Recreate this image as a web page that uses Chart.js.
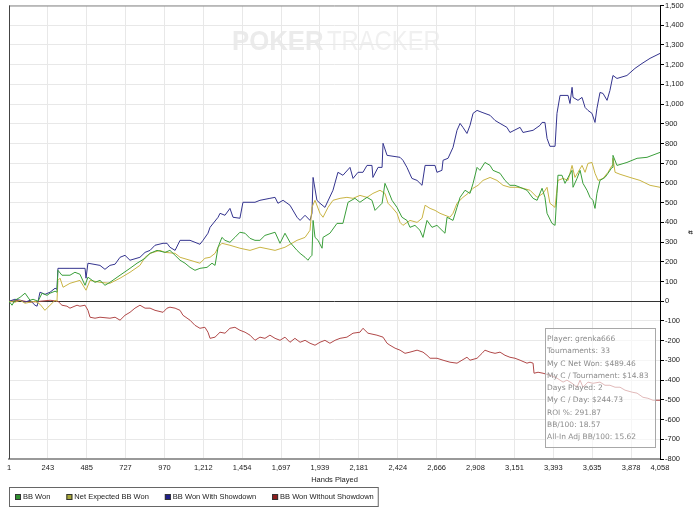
<!DOCTYPE html>
<html>
<head>
<meta charset="utf-8">
<script src="https://cdn.jsdelivr.net/npm/chart.js@4.4.1/dist/chart.umd.min.js"></script>
<style>
  body { margin: 0; background: #fff; }
  canvas { display: block; }
</style>
</head>
<body>
<canvas id="canvas1" width="700" height="513"></canvas>
<script>
// x axis tick labels (hands)
const xTicks = [1, 243, 485, 727, 970, 1212, 1454, 1697, 1939, 2181, 2424, 2666, 2908, 3151, 3393, 3635, 3878, 4058];

// BB Won
const bbWonHands = [1,20,38,70,101,132,151,182,207,238,257,288,300,306,331,381,412,443,475,493,
  537,568,599,630,693,755,799,849,880,923,973,1004,1036,1067,1098,1129,1160,1191,1235,1266,
  1285,1304,1328,1347,1378,1409,1440,1472,1503,1534,1565,1596,1659,1690,1721,1752,1796,1815,1846,1864,
  1877,1889,1896,1908,1927,1952,1958,2001,2045,2082,2114,2157,2188,2232,2263,2282,2326,2344,2363,2388,
  2419,2450,2481,2500,2531,2562,2581,2606,2637,2668,2699,2718,2731,2768,2793,2812,2843,2874,2893,2918,
  2936,2967,2999,3017,3061,3092,3123,3154,3186,3229,3267,3292,3323,3341,3354,3385,3404,3416,3422,3447,
  3466,3485,3510,3516,3541,3560,3578,3603,3622,3640,3653,3665,3684,3715,3734,3759,3765,3790,3852,3915,
  3977,4058];
const bbWonValues = [0,-20,5,20,41,5,10,0,41,30,41,51,46,157,132,132,147,137,81,122,
  96,106,81,96,132,167,193,218,243,258,248,258,233,208,193,172,157,167,172,193,
  182,274,324,309,299,324,350,345,319,309,309,334,350,294,345,299,258,243,223,208,
  223,233,410,324,309,269,324,345,395,395,502,522,502,527,512,461,497,598,563,512,
  476,426,410,375,385,360,324,410,375,385,360,345,426,410,476,527,563,547,598,679,
  664,704,689,664,649,613,588,588,578,563,522,512,573,527,446,395,385,547,639,639,
  598,628,664,578,623,664,598,563,527,512,471,547,613,628,649,679,740,689,704,725,
  730,755];

// Net Expected BB Won
const expectedHands = [1,38,70,101,132,163,194,225,244,257,288,300,306,319,338,381,443,481,506,568,
  630,693,755,817,849,880,942,973,1036,1067,1129,1191,1222,1254,1285,1304,1328,1378,1440,1503,
  1565,1659,1721,1796,1846,1877,1889,1908,1939,1958,1989,2020,2064,2107,2145,2188,2232,2269,2313,2344,
  2363,2388,2419,2438,2456,2500,2544,2575,2594,2625,2656,2687,2718,2749,2768,2793,2830,2862,2893,2924,
  2955,2999,3042,3080,3123,3167,3204,3248,3292,3329,3354,3372,3404,3422,3454,3485,3510,3528,3547,3572,
  3591,3609,3634,3653,3672,3703,3734,3759,3765,3778,3809,3871,3933,3996,4058];
const expectedValues = [0,-5,5,-10,-5,0,-15,-46,-30,-20,5,0,106,117,71,91,106,56,106,96,
  91,117,147,182,223,243,258,248,243,223,208,193,218,223,243,274,294,284,269,258,
  274,258,274,309,324,360,476,512,446,426,476,512,522,527,522,537,527,547,563,547,
  497,476,446,400,385,410,400,421,487,471,461,446,436,426,446,497,527,547,573,588,
  613,628,613,588,578,578,573,563,527,547,578,497,476,613,623,613,689,628,654,689,
  654,699,704,649,613,623,654,689,725,654,644,628,613,588,578];

// BB Won With Showdown
const showdownHands = [1,38,70,101,132,163,176,194,225,257,288,300,306,381,475,481,493,568,599,630,
  662,693,724,755,817,849,880,911,961,986,1004,1036,1067,1129,1191,1210,1241,1254,1304,1316,
  1347,1378,1397,1440,1459,1534,1565,1627,1659,1677,1709,1752,1796,1815,1846,1877,1889,1896,1920,1939,
  1970,2020,2051,2082,2126,2145,2176,2207,2232,2263,2269,2301,2326,2332,2357,2438,2456,2481,2512,2544,
  2575,2594,2656,2668,2699,2706,2737,2768,2793,2812,2830,2855,2874,2893,2918,2949,2999,3030,3061,3104,
  3123,3186,3204,3267,3310,3323,3341,3354,3372,3404,3416,3435,3485,3497,3510,3516,3547,3572,3591,3609,
  3634,3653,3665,3684,3703,3728,3746,3765,3790,3852,3902,3946,3996,4058];
const showdownValues = [0,10,5,-5,5,-20,-25,46,35,46,66,61,167,167,167,117,193,182,162,182,
  188,223,233,208,223,248,258,284,294,294,274,258,309,309,289,309,345,375,426,446,
  436,471,426,421,502,502,512,522,527,497,512,487,426,410,436,410,446,628,512,497,
  476,563,654,639,679,623,654,654,689,689,628,679,679,801,740,730,715,679,623,613,
  588,689,689,654,664,715,725,780,867,902,882,851,892,953,968,958,943,917,902,882,
  856,882,856,867,892,907,907,826,786,786,953,1044,1044,1003,1085,1034,1019,1034,983,968,
  953,907,978,1059,1054,1019,1069,1145,1130,1145,1181,1206,1232,1257];

// BB Won Without Showdown
const noShowdownHands = [1,70,132,194,257,306,331,362,381,425,443,475,493,506,537,568,630,662,693,724,
  755,786,817,849,880,911,961,986,1004,1036,1067,1085,1129,1160,1191,1222,1241,1254,1285,1316,
  1347,1378,1409,1440,1472,1503,1534,1565,1596,1627,1659,1690,1721,1752,1783,1815,1846,1877,1908,1939,
  1970,2001,2033,2064,2107,2145,2188,2207,2238,2294,2332,2357,2375,2407,2438,2469,2500,2544,2581,2606,
  2625,2668,2706,2749,2793,2824,2855,2874,2918,2949,2967,2999,3030,3061,3092,3123,3154,3186,3229,3248,
  3267,3273,3298,3329,3372,3416,3454,3478,3510,3541,3560,3578,3609,3640,3684,3715,3746,3778,3809,3840,
  3884,3915,3952,3983,4014,4058];
const noShowdownValues = [0,5,-5,0,5,0,-20,-25,-35,-20,-25,-20,-46,-81,-86,-81,-86,-81,-96,-71,
  -56,-35,-20,-35,-35,-46,-56,-35,-30,-35,-46,-71,-96,-122,-137,-132,-157,-188,-182,-157,
  -162,-137,-132,-147,-157,-172,-198,-182,-188,-172,-188,-198,-182,-208,-188,-208,-198,-213,-223,-208,
  -198,-213,-198,-188,-182,-162,-157,-137,-162,-172,-182,-213,-223,-238,-248,-264,-258,-248,-258,-274,
  -289,-289,-299,-309,-314,-299,-284,-299,-289,-264,-248,-258,-264,-258,-274,-284,-289,-299,-314,-309,
  -314,-365,-360,-365,-375,-390,-410,-400,-416,-436,-400,-436,-410,-416,-410,-426,-426,-436,-436,-451,
  -461,-466,-487,-492,-502,-502];

const seriesNames = ['BB Won', 'Net Expected BB Won', 'BB Won With Showdown', 'BB Won Without Showdown'];
const statsLines = ['Player: grenka666', 'Tournaments: 33', 'My C Net Won: $489.46', 'My C / Tournament: $14.83',
  'Days Played: 2', 'My C / Day: $244.73', 'ROI %: 291.87', 'BB/100: 18.57', 'All-In Adj BB/100: 15.62'];

const lineColors = ['#3a9e3a', '#c9b444', '#34348e', '#b04848'];
const swatchColors = ['#2f8f2f', '#a8a83a', '#1e1e8a', '#8e1e1e'];
const axisFont = '"Liberation Sans", Arial, sans-serif';

function pts(hands, vals) {
  return hands.map((h, i) => ({ x: h, y: vals[i] }));
}

const canvas = document.getElementById('canvas1');
var ctx = canvas.getContext('2d');

const bgPlugin = {
  id: 'bg',
  beforeDraw(chart) {
    const c = chart.ctx;
    c.save();
    c.fillStyle = '#fff';
    c.fillRect(0, 0, chart.width, chart.height);
    // watermark
    c.textBaseline = 'alphabetic';
    c.fillStyle = '#ebebeb';
    c.font = 'bold 28px "Liberation Sans", Arial, sans-serif';
    c.save();
    c.translate(232, 50);
    c.scale(0.92, 1);
    c.fillText('POKER', 0, 0);
    c.restore();
    c.fillStyle = '#f0f0f0';
    c.font = '28px "Liberation Sans", Arial, sans-serif';
    c.save();
    c.translate(327, 50);
    c.scale(0.85, 1);
    c.fillText('TRACKER', 0, 0);
    c.restore();
    c.restore();
  },
  beforeDatasetsDraw(chart) {
    const a = chart.chartArea;
    const c = chart.ctx;
    c.save();
    c.strokeStyle = '#888';
    c.lineWidth = 1;
    c.beginPath();
    c.moveTo(a.left, a.top + 0.5);
    c.lineTo(a.right, a.top + 0.5);
    c.stroke();
    c.strokeStyle = '#444';
    c.beginPath();
    c.moveTo(a.left + 0.5, a.top);
    c.lineTo(a.left + 0.5, a.bottom);
    c.stroke();
    c.restore();
  }
};

const overlayPlugin = {
  id: 'overlay',
  afterDatasetsDraw(chart) {
    const c = chart.ctx;
    c.save();
    // stats box
    c.fillStyle = 'rgba(255,255,255,0.62)';
    c.fillRect(545, 328, 110, 119);
    c.strokeStyle = '#a8a8a8';
    c.lineWidth = 1;
    c.strokeRect(545.5, 328.5, 110, 119);
    c.fillStyle = '#8c8c8c';
    c.font = '7.5px "DejaVu Sans", Verdana, sans-serif';
    c.textBaseline = 'middle';
    statsLines.forEach((s, i) => c.fillText(s, 547, 339 + i * 12.3));
    c.restore();
  },
  afterDraw(chart) {
    const c = chart.ctx;
    c.save();
    c.font = '7.5px ' + axisFont;
    c.textBaseline = 'middle';
    let x = 15;
    const cy = 497;
    chart.data.datasets.forEach((ds, i) => {
      c.fillStyle = swatchColors[i];
      c.fillRect(x, cy - 3, 6, 6);
      c.strokeStyle = '#333';
      c.lineWidth = 1;
      c.strokeRect(x + 0.5, cy - 2.5, 5, 5);
      c.fillStyle = '#222';
      c.fillText(ds.label, x + 8, cy);
      x += 8 + c.measureText(ds.label).width + 16;
    });
    c.strokeStyle = '#666';
    c.strokeRect(9.5, 487.5, x - 12 - 9, 19);
    c.restore();
  }
};

const data = {
  datasets: [
    { label: seriesNames[0], data: pts(bbWonHands, bbWonValues), borderColor: lineColors[0] },
    { label: seriesNames[1], data: pts(expectedHands, expectedValues), borderColor: lineColors[1] },
    { label: seriesNames[2], data: pts(showdownHands, showdownValues), borderColor: lineColors[2] },
    { label: seriesNames[3], data: pts(noShowdownHands, noShowdownValues), borderColor: lineColors[3] }
  ]
};

const options = {
  responsive: false,
  animation: false,
  layout: { padding: { top: 5, left: 9, right: 0, bottom: 28 } },
  plugins: {
    legend: { display: false },
    tooltip: { enabled: false }
  },
  elements: {
    point: { radius: 0 },
    line: { borderWidth: 1, tension: 0, fill: false }
  },
  scales: {
    x: {
      type: 'linear',
      min: 1,
      max: 4058,
      afterBuildTicks: (scale) => { scale.ticks = xTicks.map(v => ({ value: v })); },
      afterFit: (scale) => { scale.height = 26; },
      grid: { color: '#e8e8e8', drawTicks: false },
      border: { color: '#999', width: 2 },
      ticks: {
        autoSkip: false,
        maxRotation: 0,
        padding: 4,
        color: '#222',
        font: { family: axisFont, size: 7.5 },
        callback: (v) => v.toLocaleString('en-US')
      },
      title: {
        display: true,
        text: 'Hands Played',
        color: '#222',
        font: { family: axisFont, size: 7.5 },
        padding: { top: 0, bottom: 1 }
      }
    },
    y: {
      position: 'right',
      min: -800,
      max: 1500,
      afterFit: (scale) => { scale.width = 40; },
      grid: {
        color: (c) => (c.tick && c.tick.value === 0) ? '#333' : '#e8e8e8',
        tickLength: 4,
        tickColor: '#000'
      },
      border: { color: '#000' },
      ticks: {
        stepSize: 100,
        padding: 1,
        color: '#222',
        font: { family: axisFont, size: 7.5 },
        callback: (v) => v.toLocaleString('en-US')
      },
      title: {
        display: true,
        text: '#',
        color: '#222',
        font: { family: axisFont, size: 7.5, weight: 'bold' },
        padding: { top: 5, bottom: 0 }
      }
    }
  }
};

const config = {
  type: 'line',
  data: data,
  options: options,
  plugins: [bgPlugin, overlayPlugin]
};
var myChart = new Chart(ctx, config);
</script>
</body>
</html>
